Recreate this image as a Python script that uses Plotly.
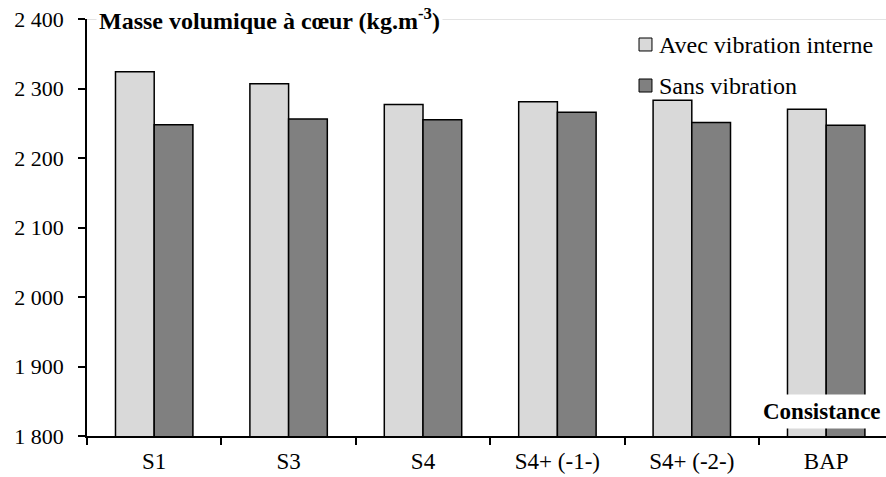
import plotly.graph_objects as go

categories = ["S1", "S3", "S4", "S4+ (-1-)", "S4+ (-2-)", "BAP"]
avec_vibration = [2324, 2307, 2277, 2281, 2283, 2270]
sans_vibration = [2248, 2256, 2255, 2266, 2251, 2247]
y_ticks = [1800, 1900, 2000, 2100, 2200, 2300, 2400]
y_tick_text = ["1 800", "1 900", "2 000", "2 100", "2 200", "2 300", "2 400"]
series_names = ["Avec vibration interne", "Sans vibration"]
series_colors = ["#d9d9d9", "#808080"]

FONT = "Liberation Serif"

fig = go.Figure()
for name, vals, col in zip(series_names, [avec_vibration, sans_vibration], series_colors):
    fig.add_trace(go.Bar(
        x=categories, y=vals, name=name, showlegend=False,
        marker=dict(color=col, line=dict(color="black", width=1.5)),
    ))

# manual legend (squares + labels) in paper coordinates
legend_shapes = []
legend_annots = []
sq_rows = [(0.9233, 0.9544, 0.9376), (0.8249, 0.8561, 0.8393)]
for (y0, y1, ty), name, col in zip(sq_rows, series_names, series_colors):
    legend_shapes.append(dict(type="rect", xref="paper", yref="paper",
                              x0=0.6909, x1=0.7071, y0=y0, y1=y1,
                              fillcolor=col, line=dict(color="black", width=1)))
    legend_annots.append(dict(text=name, xref="paper", yref="paper", x=0.7134, y=ty,
                              xanchor="left", yanchor="middle", showarrow=False,
                              font=dict(size=24, family=FONT, color="black")))

fig.update_layout(
    width=886, height=477,
    margin=dict(l=87, r=0, t=19, b=41),
    paper_bgcolor="white", plot_bgcolor="white",
    barmode="group", bargap=0.424, bargroupgap=0,
    font=dict(family=FONT, size=22, color="black"),
    showlegend=False,
    xaxis=dict(
        type="category", range=[-0.5, -0.5 + 799 / 134.4],
        showline=True, linecolor="black", linewidth=1.5,
        ticks="outside", tickson="boundaries", ticklen=7, tickcolor="black", tickwidth=1.5,
        showgrid=False, tickfont=dict(size=23, family=FONT), ticklabelstandoff=4,
    ),
    yaxis=dict(
        range=[1800, 2400], tickvals=y_ticks, ticktext=y_tick_text,
        showline=True, linecolor="black", linewidth=1.5,
        ticks="outside", ticklen=7, tickcolor="black", tickwidth=1.5,
        showgrid=False, zeroline=False, tickfont=dict(size=22, family=FONT),
        ticklabelstandoff=10,
    ),
    shapes=[dict(type="line", xref="paper", yref="y", x0=0, x1=1, y0=2400, y1=2400,
                 line=dict(color="#c8c8c8", width=1))] + legend_shapes,
    annotations=[
        dict(text="<b>Masse volumique à cœur (kg.m<sup>-3</sup>)</b>", xref="paper", yref="y",
             x=0.011, y=2400, xanchor="left", yanchor="middle", showarrow=False,
             font=dict(size=24, family=FONT, color="black"), bgcolor="white",
             borderpad=2),
        dict(text="<b>Consistance</b>", xref="paper", yref="paper",
             x=1.0, y=0.0576, xanchor="right", yanchor="middle", showarrow=False,
             font=dict(size=23, family=FONT, color="black"), bgcolor="white",
             borderpad=4),
    ] + legend_annots,
)

fig.write_html("out.html", config={"displayModeBar": False},
               post_script="document.body.style.margin='0';")
